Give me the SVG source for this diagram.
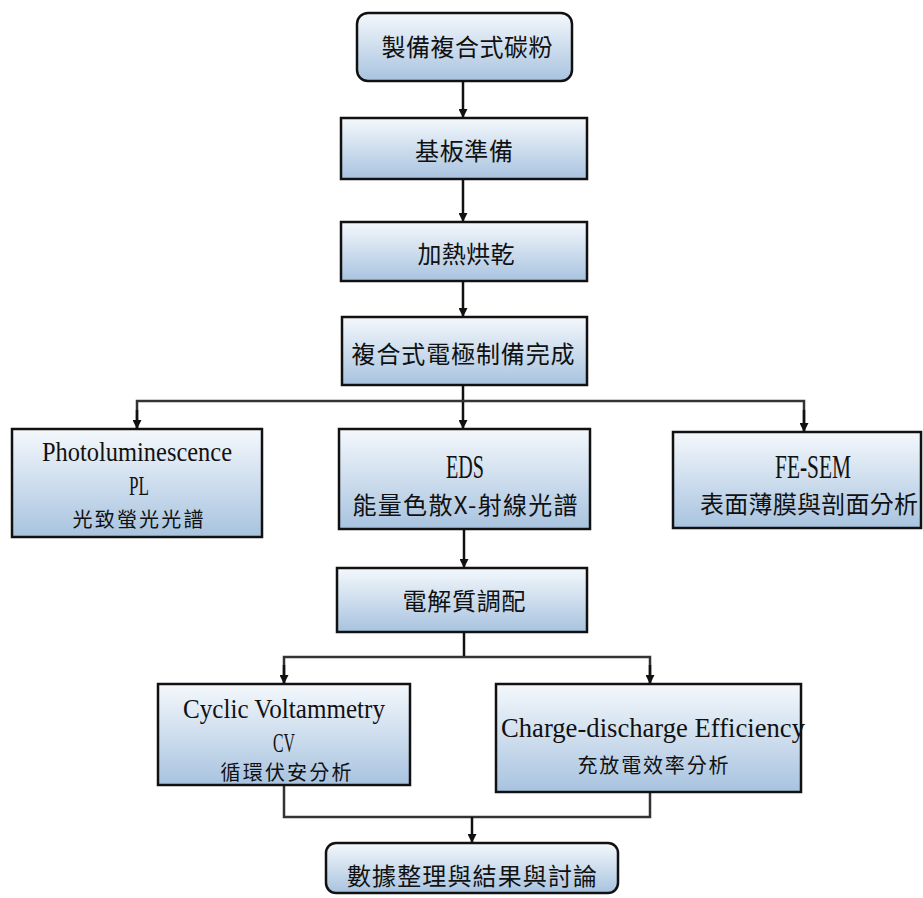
<svg xmlns="http://www.w3.org/2000/svg" width="923" height="898" viewBox="0 0 923 898">
<defs>
<linearGradient id="g" x1="0" y1="0" x2="0" y2="1">
<stop offset="0" stop-color="#f4f8fc"/>
<stop offset="1" stop-color="#a8c3df"/>
</linearGradient>
<marker id="ah" markerWidth="9" markerHeight="9" refX="8" refY="4.5" orient="auto" markerUnits="userSpaceOnUse" viewBox="0 0 9 9">
<path d="M0,0 L9,4.5 L0,9 Z" fill="#111"/>
</marker>
</defs>
<style>
.box{fill:url(#g);stroke:#111;stroke-width:2.5}
.c{fill:none;stroke:#111;stroke-width:2.5}
.h{fill:none;stroke:#333;stroke-width:2.5}
.zh{font-family:"Noto Sans CJK TC","Noto Sans CJK SC",sans-serif;font-size:24px;fill:#111;text-anchor:middle}
.zs{font-family:"Noto Sans CJK TC","Noto Sans CJK SC",sans-serif;font-size:20px;fill:#111;text-anchor:middle}
.en{font-family:"Liberation Serif",serif;font-size:27px;fill:#111;text-anchor:middle}
.eb{font-family:"Liberation Serif",serif;font-size:33px;fill:#111;text-anchor:middle}
</style>
<g id="connectors">
<path class="c" d="M463,81 V117" marker-end="url(#ah)"/>
<path class="c" d="M463,179 V221" marker-end="url(#ah)"/>
<path class="c" d="M463,281 V316" marker-end="url(#ah)"/>
<path class="c" d="M463,385 V428" marker-end="url(#ah)"/>
<path class="h" d="M137,428 V401 H804 V431"/>
<path class="c" d="M137,410 V428" marker-end="url(#ah)"/>
<path class="c" d="M804,410 V431" marker-end="url(#ah)"/>
<path class="c" d="M464,529 V567" marker-end="url(#ah)"/>
<path class="c" d="M464,632 V657"/>
<path class="h" d="M284,683 V657 H650 V683"/>
<path class="c" d="M284,665 V683" marker-end="url(#ah)"/>
<path class="c" d="M650,665 V683" marker-end="url(#ah)"/>
<path class="h" d="M284,785 V817 H650 V792"/>
<path class="c" d="M472,817 V842" marker-end="url(#ah)"/>
</g>
<g id="n1"><rect class="box" x="357" y="13" width="215" height="68" rx="11"/><text class="zh" x="467" y="56" textLength="171" lengthAdjust="spacing">製備複合式碳粉</text></g>
<g id="n2"><rect class="box" x="341" y="118" width="246" height="61"/><text class="zh" x="464" y="160" textLength="98" lengthAdjust="spacing">基板準備</text></g>
<g id="n3"><rect class="box" x="341" y="222" width="246" height="59"/><text class="zh" x="466" y="263" textLength="97" lengthAdjust="spacing">加熱烘乾</text></g>
<g id="n4"><rect class="box" x="342" y="317" width="245" height="68"/><text class="zh" x="463" y="363" textLength="223" lengthAdjust="spacing">複合式電極制備完成</text></g>
<g id="pl"><rect class="box" x="12" y="429" width="250" height="108"/>
<text class="en" x="137" y="461" textLength="190" lengthAdjust="spacingAndGlyphs">Photoluminescence</text>
<text class="en" x="139" y="495" textLength="20" lengthAdjust="spacingAndGlyphs">PL</text>
<text class="zs" x="138" y="527" textLength="131" lengthAdjust="spacing">光致螢光光譜</text></g>
<g id="eds"><rect class="box" x="339" y="429" width="251" height="100"/>
<text class="eb" x="465" y="478" textLength="38" lengthAdjust="spacingAndGlyphs">EDS</text>
<text class="zh" x="465" y="514" textLength="225" lengthAdjust="spacing">能量色散X-射線光譜</text></g>
<g id="fesem"><rect class="box" x="673" y="432" width="248" height="96"/>
<text class="eb" x="813" y="478" textLength="76" lengthAdjust="spacingAndGlyphs">FE-SEM</text>
<text class="zh" x="809" y="513" textLength="218" lengthAdjust="spacing">表面薄膜與剖面分析</text></g>
<g id="n5"><rect class="box" x="337" y="568" width="250" height="64"/><text class="zh" x="464" y="610" textLength="123" lengthAdjust="spacing">電解質調配</text></g>
<g id="cv"><rect class="box" x="158" y="684" width="252" height="101"/>
<text class="en" x="284" y="718" textLength="202" lengthAdjust="spacingAndGlyphs">Cyclic Voltammetry</text>
<text class="en" x="284" y="752" textLength="22" lengthAdjust="spacingAndGlyphs">CV</text>
<text class="zs" x="286" y="780" textLength="131" lengthAdjust="spacing">循環伏安分析</text></g>
<g id="cd"><rect class="box" x="496" y="684" width="305" height="108"/>
<text class="en" x="653" y="737" textLength="304" lengthAdjust="spacingAndGlyphs">Charge-discharge Efficiency</text>
<text class="zs" x="653" y="773" textLength="151" lengthAdjust="spacing">充放電效率分析</text></g>
<g id="n6"><rect class="box" x="326" y="843" width="292" height="50" rx="10"/><text class="zh" x="472" y="885" textLength="250" lengthAdjust="spacing">數據整理與結果與討論</text></g>
</svg>
